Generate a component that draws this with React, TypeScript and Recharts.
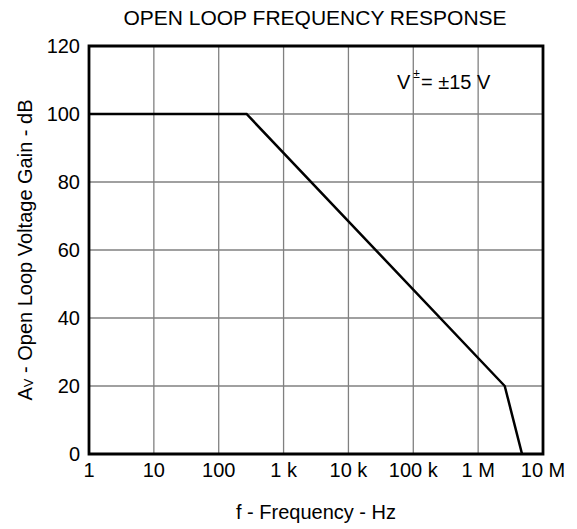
import {
  LineChart,
  Line,
  XAxis,
  YAxis,
  CartesianGrid,
  ReferenceArea,
  Label,
} from "recharts";

const freqs = [1, 269, 2570000, 4750000];
const gains = [100, 100, 20, 0];

const xTicks = [1, 10, 100, 1000, 10000, 100000, 1000000, 10000000];
const xTickLabels = ["1", "10", "100", "1 k", "10 k", "100 k", "1 M", "10 M"];
const yTicks = [0, 20, 40, 60, 80, 100, 120];

const data = freqs.map((f, i) => ({ f, gain: gains[i] }));

const font = "'Liberation Sans', Arial, sans-serif";

const YLabel = ({ viewBox }: any) => {
  const cy = viewBox.y + viewBox.height / 2;
  const cx = 25;
  return (
    <text
      x={cx}
      y={cy}
      transform={`rotate(-90, ${cx}, ${cy})`}
      textAnchor="middle"
      dominantBaseline="central"
      fontFamily={font}
      fontSize={20}
      fill="#000"
    >
      A<tspan fontSize={13} dy={3}>V</tspan>
      <tspan dy={-3}> - Open Loop Voltage Gain - dB</tspan>
    </text>
  );
};

export default function App() {
  return (
    <div style={{ position: "absolute", left: 0, top: 0, width: 577, height: 529, background: "#fff", fontFamily: font }}>
      <div style={{ position: "absolute", top: 6, left: 0, width: 630, textAlign: "center", fontSize: 21, color: "#000", whiteSpace: "nowrap" }}>
        OPEN LOOP FREQUENCY RESPONSE
      </div>
      <LineChart width={577} height={529} data={data} margin={{ top: 46, right: 34, left: 0, bottom: 0 }}>
        <CartesianGrid stroke="#808080" strokeWidth={1.3} />
        <XAxis
          dataKey="f"
          type="number"
          scale="log"
          domain={[1, 10000000]}
          ticks={xTicks}
          tickFormatter={(v: number) => xTickLabels[xTicks.indexOf(v)] ?? ""}
          tickLine={false}
          axisLine={false}
          tickMargin={3}
          height={75}
          interval={0}
          allowDataOverflow
          tick={{ fontSize: 20, fill: "#000", fontFamily: font }}
        >
          <Label
            value="f - Frequency - Hz"
            position="insideBottom"
            offset={10}
            style={{ fontSize: 20, fill: "#000", fontFamily: font }}
          />
        </XAxis>
        <YAxis
          type="number"
          domain={[0, 120]}
          ticks={yTicks}
          tickLine={false}
          axisLine={false}
          tickMargin={3}
          width={89}
          interval={0}
          tick={{ fontSize: 20, fill: "#000", fontFamily: font }}
        >
          <Label content={<YLabel />} />
        </YAxis>
        <ReferenceArea x1={1} x2={10000000} y1={0} y2={120} fill="none" stroke="#000" strokeWidth={2.8} />
        <Line
          dataKey="gain"
          stroke="#000"
          strokeWidth={2.5}
          dot={false}
          isAnimationActive={false}
          type="linear"
        />
      </LineChart>
      <div style={{ position: "absolute", left: 397, top: 71, fontSize: 20, lineHeight: "23px", color: "#000", whiteSpace: "nowrap" }}>
        V
        <span style={{ fontSize: 12, position: "relative", top: -11, margin: "0 1px 0 3px" }}>±</span>
        = ±15 V
      </div>
    </div>
  );
}
